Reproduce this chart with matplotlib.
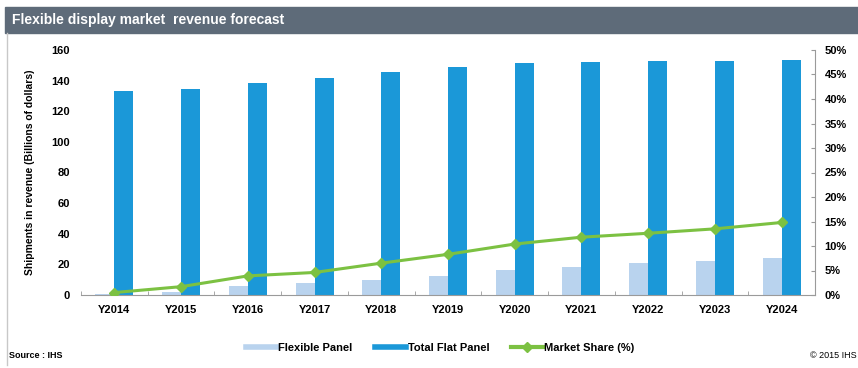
import numpy as np
import matplotlib as mpl
from matplotlib import pyplot as plt
from matplotlib.lines import Line2D
from matplotlib.patches import Rectangle

# Revenue forecast numbers
years = ["Y2014", "Y2015", "Y2016", "Y2017", "Y2018", "Y2019",
         "Y2020", "Y2021", "Y2022", "Y2023", "Y2024"]
flexible_panel = [0.5, 2.0, 6.0, 7.6, 9.8, 12.6, 16.5, 18.4, 20.6, 22.2, 24.0]
total_flat_panel = [133.5, 134.8, 138.3, 141.8, 145.5, 148.8, 151.4, 152.2, 152.6, 152.7, 153.2]
market_share = [0.5, 1.7, 3.9, 4.6, 6.5, 8.3, 10.4, 11.8, 12.6, 13.5, 14.8]

flex_color = '#b9d3ee'
flat_color = '#1b98d8'
share_color = '#7cc142'
axis_gray = '#9a9a9a'

plt.rcParams['font.family'] = ['Liberation Sans', 'DejaVu Sans']

fig = plt.figure(figsize=(8.58, 3.68), dpi=100)
W, H = 858, 368

# header band
fig.patches.append(Rectangle((5 / W, 1 - 33 / H), 1 - 5 / W, 26 / H,
                             transform=fig.transFigure, color='#5e6b79', zorder=0))
fig.text(12 / W, 1 - 20 / H, "Flexible display market  revenue forecast",
         color='white', fontsize=10, fontweight='bold', va='center', ha='left')
fig.add_artist(Line2D([7 / W, 7 / W], [1 - 365 / H, 1 - 33 / H],
                      transform=fig.transFigure, color='#c8c8c8', lw=1))

ax = fig.add_axes([81 / W, 1 - 295 / H, (815 - 81) / W, (295 - 50) / H])
x = np.arange(len(years))
bw = 0.285
ax.bar(x - bw / 2, flexible_panel, width=bw, color=flex_color, zorder=2)
ax.bar(x + bw / 2, total_flat_panel, width=bw, color=flat_color, zorder=2)

ax.set_xlim(-0.5, len(years) - 0.5)
ax.set_ylim(0, 160)
ax.set_yticks(np.arange(0, 161, 20))
ax.set_xticks(x)
ax.set_xticklabels(years, fontsize=8, fontweight='bold')
ax.set_xticks(np.arange(-0.5, len(years), 1), minor=True)
ax.tick_params(axis='x', which='major', length=0, pad=7)
ax.tick_params(axis='x', which='minor', length=3, color=axis_gray, direction='in')
ax.tick_params(axis='y', length=0, pad=8, labelsize=8)
for lbl in ax.get_yticklabels():
    lbl.set_fontweight('bold')
for s in ['top', 'left', 'right']:
    ax.spines[s].set_visible(False)
ax.spines['bottom'].set_color(axis_gray)
ax.set_ylabel("Shipments in revenue (Billions of dollars)", fontsize=7.5,
              fontweight='bold', labelpad=12)

ax2 = ax.twinx()
ax2.plot(x, market_share, color=share_color, lw=2.2, marker='D', markersize=5.5, zorder=3)
ax2.set_ylim(0, 50)
ax2.set_yticks(np.arange(0, 51, 5))
ax2.set_yticklabels([f"{v}%" for v in range(0, 51, 5)], fontsize=8, fontweight='bold')
ax2.tick_params(axis='y', direction='in', length=3, color=axis_gray, pad=7)
for s in ['top', 'left', 'bottom']:
    ax2.spines[s].set_visible(False)
ax2.spines['right'].set_color(axis_gray)

handles = [Line2D([], [], color=flex_color, lw=4),
           Line2D([], [], color=flat_color, lw=4),
           Line2D([], [], color=share_color, lw=3, marker='D', markersize=5,
                  markevery=[1])]
fig.legend(handles, ["Flexible Panel", "Total Flat Panel", "Market Share (%)"],
           loc='center', bbox_to_anchor=(440 / W, 1 - 348 / H), ncol=3,
           frameon=False, handlelength=2.8, columnspacing=2.0, handletextpad=0.15,
           prop={'size': 8, 'weight': 'bold'})

fig.text(9 / W, 1 - 356 / H, "Source : IHS", fontsize=6.5, fontweight='bold',
         ha='left', va='center')
fig.text(857 / W, 1 - 356 / H, "\u00a9 2015 IHS", fontsize=6.5, ha='right', va='center')

fig.savefig("out.png", dpi=100)
